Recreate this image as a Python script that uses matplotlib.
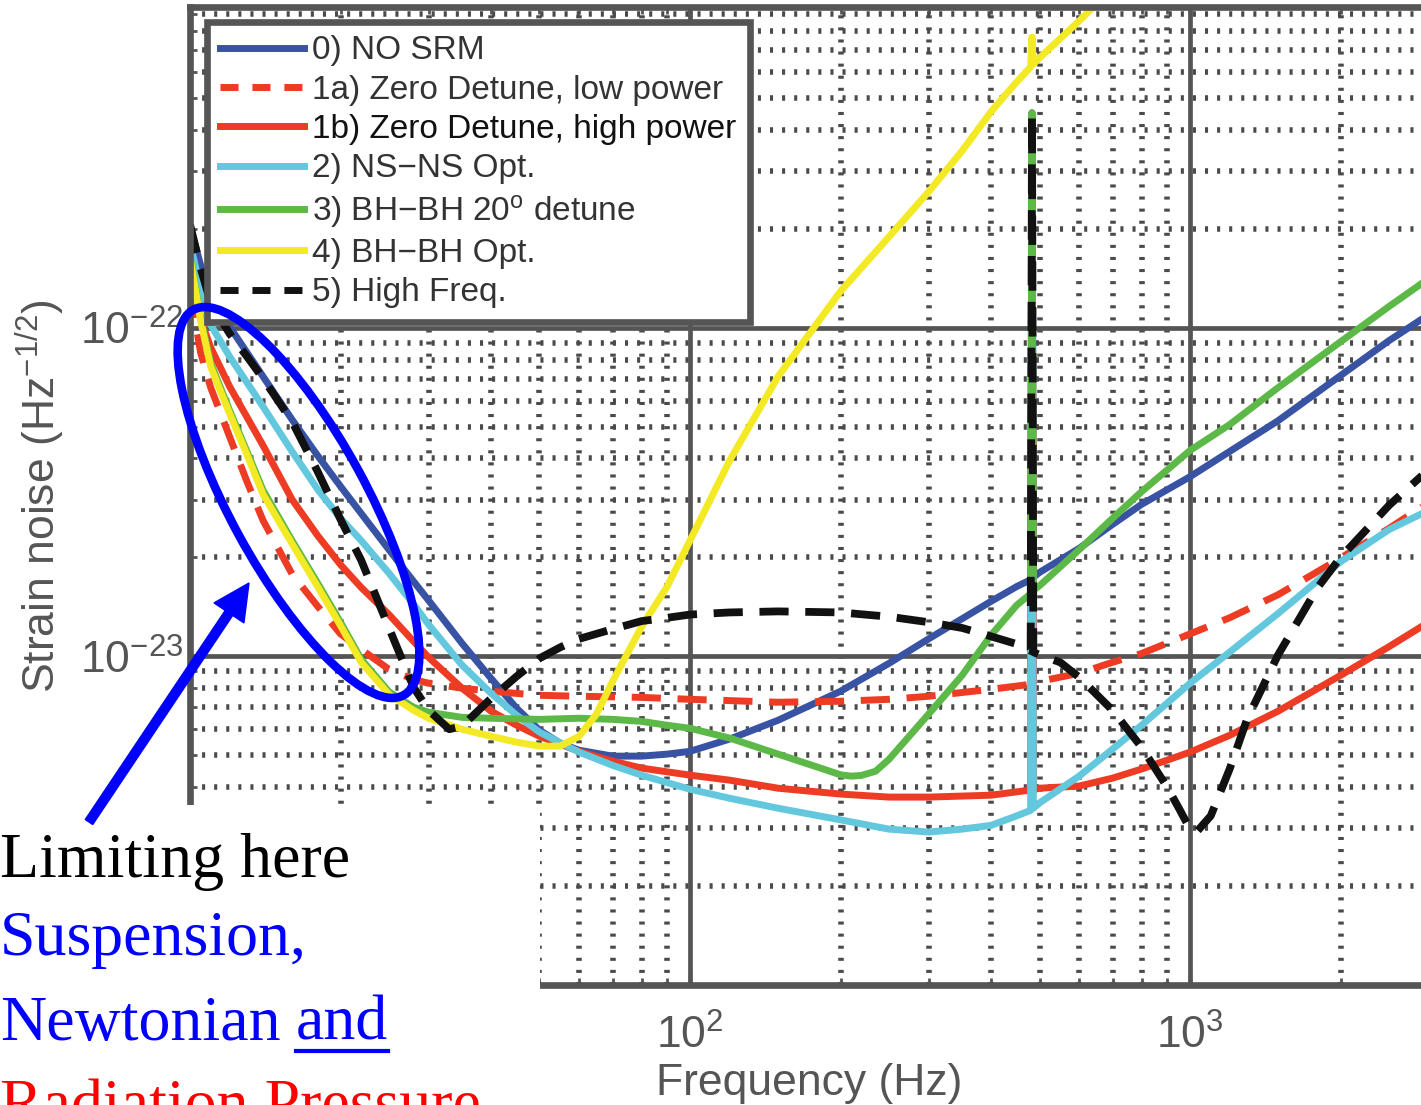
import numpy as np
import matplotlib
matplotlib.use('Agg')
import matplotlib.pyplot as plt
from matplotlib.patches import Ellipse, Rectangle, FancyArrow
from matplotlib.lines import Line2D
from matplotlib.ticker import LogLocator, NullFormatter, FixedLocator

plt.rcParams['font.family'] = ['Liberation Sans', 'DejaVu Sans']
plt.rcParams['mathtext.fontset'] = 'custom'
plt.rcParams['mathtext.rm'] = 'Liberation Sans'
plt.rcParams['mathtext.it'] = 'Liberation Sans:italic'
plt.rcParams['mathtext.bf'] = 'Liberation Sans:bold'
plt.rcParams['lines.scale_dashes'] = False

# ---------------- data (frequency in Hz, strain in units of 1e-23 /rtHz) -------------
f_nosrm = [10, 10.5, 11, 12, 14, 16, 18, 20, 22, 25, 28, 30, 35, 40, 45, 50, 55, 60, 70, 80,
           90, 100, 120, 150, 200, 250, 300, 400, 450, 480, 483, 486, 500, 600, 700, 800,
           1000, 1200, 1500, 2000, 2500, 3000]
h_nosrm = [20.4, 15.5, 12.6, 10.07, 7.10, 5.25, 4.08, 3.29, 2.72, 2.11, 1.69, 1.48, 1.095, 0.857,
           0.695, 0.596, 0.544, 0.518, 0.497, 0.497, 0.504, 0.514, 0.560, 0.639, 0.783, 0.952,
           1.13, 1.47, 1.63, 1.71, 45.0, 1.74, 1.80, 2.13, 2.52, 2.90, 3.52, 4.20, 5.21, 7.15,
           9.13, 10.95]

f_zd_low = [10, 10.5, 11, 12, 13, 14, 16, 18, 20, 22, 25, 28, 30, 35, 40, 50, 60, 80, 100, 150,
            200, 250, 300, 400, 480, 483, 486, 500, 600, 700, 800, 1000, 1200, 1500, 2000, 2500, 3000]
h_zd_low = [13.1, 8.4, 6.57, 4.66, 3.40, 2.59, 1.78, 1.42, 1.17, 1.05, 0.913, 0.851, 0.828, 0.80,
            0.783, 0.761, 0.756, 0.750, 0.740, 0.725, 0.730, 0.740, 0.756, 0.794, 0.822, 45.0,
            0.826, 0.839, 0.888, 0.959, 1.02, 1.17, 1.31, 1.54, 1.99, 2.45, 2.94]

f_zd_high = [10, 10.5, 11, 12, 14, 16, 18, 20, 22, 25, 28, 30, 35, 40, 45, 50, 60, 70, 80, 100,
             120, 150, 200, 250, 300, 400, 480, 483, 486, 500, 600, 700, 800, 1000, 1200, 1500,
             2000, 2500, 3000]
h_zd_high = [15.5, 10.6, 8.70, 6.62, 4.38, 3.0, 2.33, 1.90, 1.62, 1.34, 1.11, 0.993, 0.80, 0.681,
             0.617, 0.571, 0.514, 0.480, 0.457, 0.435, 0.420, 0.397, 0.381, 0.373, 0.373, 0.378,
             0.392, 45.0, 0.393, 0.397, 0.403, 0.426, 0.454, 0.511, 0.575, 0.681, 0.875, 1.07, 1.27]

f_nsns = [10, 10.5, 11, 12, 14, 16, 18, 20, 22, 25, 28, 30, 35, 40, 45, 50, 60, 70, 80, 100,
          120, 150, 200, 250, 300, 350, 400, 450, 480, 483, 486, 500, 600, 700, 800, 1000, 1200,
          1500, 2000, 2500, 3000]
h_nsns = [18.1, 13.1, 10.2, 8.17, 5.75, 4.20, 3.22, 2.63, 2.25, 1.79, 1.44, 1.25, 0.94, 0.772,
          0.662, 0.588, 0.511, 0.466, 0.435, 0.394, 0.370, 0.345, 0.318, 0.298, 0.292, 0.298,
          0.306, 0.327, 0.340, 45.0, 0.345, 0.358, 0.432, 0.522, 0.617, 0.828, 1.03, 1.35, 1.94,
          2.43, 2.78]

f_bh20 = [10, 10.5, 11, 12, 13, 14, 16, 18, 20, 22, 25, 28, 30, 35, 40, 50, 60, 70, 80, 90,
          100, 120, 150, 180, 200, 210, 220, 235, 250, 300, 350, 400, 450, 480, 483, 486, 500,
          600, 700, 800, 1000, 1200, 1500, 2000, 2500, 3000]
h_bh20 = [16.5, 10.7, 7.8, 5.6, 4.2, 3.2, 2.25, 1.67, 1.27, 0.98, 0.78, 0.700, 0.676, 0.652,
          0.648, 0.643, 0.648, 0.643, 0.634, 0.617, 0.604, 0.564, 0.504, 0.460, 0.436, 0.432,
          0.434, 0.447, 0.486, 0.667, 0.875, 1.16, 1.43, 1.55, 45.0, 1.59, 1.64, 2.11, 2.63,
          3.17, 4.23, 5.07, 6.57, 9.06, 11.6, 14.1]

f_bhopt = [10, 10.5, 11, 12, 13, 14, 16, 18, 20, 22, 25, 28, 30, 35, 40, 45, 50, 55, 60, 65,
           70, 80, 90, 100, 120, 150, 200, 250, 300, 350, 400, 450, 480, 483, 486, 500, 600, 700]
h_bhopt = [16.3, 10.5, 7.61, 5.48, 4.11, 3.11, 2.20, 1.63, 1.24, 0.959, 0.766, 0.685, 0.648,
           0.600, 0.571, 0.548, 0.533, 0.533, 0.571, 0.667, 0.839, 1.23, 1.63, 2.25, 3.94, 7.10,
           12.9, 18.9, 25.9, 34.5, 45.4, 55.9, 62.1, 76.6, 63.4, 66.2, 85.7, 108]

f_hf = [10, 10.5, 11, 12, 13, 14, 16, 18, 20, 22, 25, 28, 30, 33, 35, 40, 45, 50, 55, 60,
        70, 80, 90, 100, 120, 150, 200, 250, 300, 350, 400, 450, 480, 483, 486, 500, 550, 600,
        700, 800, 900, 950, 1000, 1030, 1100, 1200, 1300, 1500, 1800, 2000, 2500, 3000]
h_hf = [20.6, 15.2, 11.9, 9.59, 8.17, 7.0, 5.18, 3.65, 2.61, 1.96, 1.22, 0.805, 0.685, 0.600,
        0.613, 0.745, 0.869, 0.986, 1.065, 1.13, 1.21, 1.28, 1.31, 1.34, 1.36, 1.37, 1.36, 1.32,
        1.27, 1.22, 1.15, 1.09, 1.04, 45.0, 1.03, 1.01, 0.959, 0.864, 0.685, 0.529, 0.400, 0.345,
        0.298, 0.292, 0.327, 0.454, 0.643, 1.01, 1.62, 2.00, 2.88, 3.70]

labels = ['0) NO SRM', '1a) Zero Detune, low power', '1b) Zero Detune, high power',
          '2) NS\u2212NS Opt.', '3) BH\u2212BH 20$^\\mathrm{o}$ detune', '4) BH\u2212BH Opt.',
          '5) High Freq.']
colors = ['#3953A4', '#EE3B24', '#EE3B24', '#63C8DD', '#5DB947', '#F3EA25', '#111111']
series = [(f_nosrm, h_nosrm), (f_zd_low, h_zd_low), (f_zd_high, h_zd_high), (f_nsns, h_nsns),
          (f_bh20, h_bh20), (f_bhopt, h_bhopt), (f_hf, h_hf)]
dashed = [False, True, False, False, False, False, True]
widths = [5.0, 5.0, 5.0, 5.0, 5.0, 5.0, 5.6]

x_major = [100, 1000]
y_major = [1e-23, 1e-22]

# ---------------- figure ----------------
W, H = 1421, 1105
fig = plt.figure(figsize=(W / 100, H / 100), dpi=100)
GRAY = '#555555'

ax = fig.add_axes([190 / W, 1 - 985 / H, (1428.6 - 190) / W, (985 - 7.2) / H])
ax.set_xscale('log')
ax.set_yscale('log')
ax.set_xlim(10, 3000)
ax.set_ylim(1e-24, 10 ** -21.025)
ax.set_axisbelow(True)

ax.xaxis.set_major_locator(FixedLocator(x_major))
ax.yaxis.set_major_locator(FixedLocator(y_major))
ax.xaxis.set_minor_locator(LogLocator(base=10, subs=np.arange(2, 10)))
ax.yaxis.set_minor_locator(LogLocator(base=10, subs=np.arange(2, 10)))
ax.xaxis.set_minor_formatter(NullFormatter())
ax.yaxis.set_minor_formatter(NullFormatter())

ax.grid(True, which='major', color=GRAY, lw=3.4, ls='-')
ax.grid(True, which='minor', color='#4a4a4a', lw=4.0, ls=(0, (2.2, 6.5)))

for s in ax.spines.values():
    s.set_linewidth(4.8)
    s.set_color(GRAY)
ax.tick_params(which='both', direction='in', top=True, right=True, color=GRAY,
               labelcolor=GRAY, labelsize=32)
ax.tick_params(which='major', length=8, width=2.5)
ax.tick_params(which='minor', length=5, width=2.0)
ax.tick_params(axis='y', pad=5)
ax.tick_params(axis='x', pad=21)

for (f, h), c, d, w in zip(series, colors, dashed, widths):
    kw = dict(color=c, lw=w)
    if d:
        kw['dashes'] = (21, 12)
    ax.plot(f, np.array(h) * 1e-23, **kw)

ax.set_xlabel('Frequency (Hz)', fontsize=32, color=GRAY, labelpad=4)
ax.set_ylabel('Strain noise (Hz$^{\\mathregular{-1/2}}$)', fontsize=32, color=GRAY, labelpad=9)

handles = []
for c, d in zip(colors, dashed):
    kw = dict(color=c, lw=5.0)
    if d:
        kw['dashes'] = (13, 10)
    handles.append(Line2D([], [], **kw))
leg = ax.legend(handles, labels, loc='upper left', bbox_to_anchor=(207 / W, 1 - 22 / H),
                bbox_transform=fig.transFigure, fontsize=24, frameon=True, fancybox=False,
                edgecolor=GRAY, framealpha=1, borderaxespad=0, borderpad=0.4,
                handlelength=2.5, handletextpad=0.25, labelspacing=0.25)
leg.get_frame().set_linewidth(4.8)
for i, t in enumerate(leg.get_texts()):
    t.set_color('#111111' if i == 2 else '#333333')

# ---------------- annotation overlay ----------------
fig.add_artist(Rectangle((0, 0), 540 / W, (H - 805) / H, transform=fig.transFigure,
                         facecolor='white', edgecolor='none', zorder=10))
fig.add_artist(Ellipse((2.985, (H - 502.5) / 100), width=4.39, height=1.36, angle=-61.4,
                       transform=fig.dpi_scale_trans, fill=False, edgecolor='#0000FF',
                       lw=6.2, zorder=11))
tail = (0.89, (H - 822) / 100)
tip = (2.49, (H - 583) / 100)
fig.add_artist(FancyArrow(tail[0], tail[1], tip[0] - tail[0], tip[1] - tail[1], width=0.09,
                          head_width=0.36, head_length=0.36, length_includes_head=True,
                          color='#0000FF', transform=fig.dpi_scale_trans, zorder=11))

serif = ['Liberation Serif', 'DejaVu Serif']
tfs = 46
fig.text(0.0, (H - 877) / H, 'Limiting here', fontsize=tfs, family=serif, color='black',
         va='baseline', ha='left', zorder=12)
fig.text(0.0, (H - 955) / H, 'Suspension,', fontsize=tfs, family=serif, color='#0000FF',
         va='baseline', ha='left', zorder=12)
fig.text(0.0, (H - 1040) / H, 'Newtonian', fontsize=tfs, family=serif, color='#0000FF',
         va='baseline', ha='left', zorder=12)
t_and = fig.text(296 / W, (H - 1040) / H, 'and', fontsize=tfs, family=serif, color='#0000FF',
                 va='baseline', ha='left', zorder=12)
fig.text(0.0, (H - 1123) / H, 'Radiation Pressure', fontsize=tfs, family=serif, color='#FF0000',
         va='baseline', ha='left', zorder=12)

fig.canvas.draw()
bb = t_and.get_window_extent(fig.canvas.get_renderer())
uy = (H - 1051) / 100
fig.add_artist(Line2D([bb.x0 / 100, bb.x1 / 100], [uy, uy], color='#0000FF', lw=3.0,
                      transform=fig.dpi_scale_trans, zorder=12))

fig.savefig('out.png', dpi=100)
